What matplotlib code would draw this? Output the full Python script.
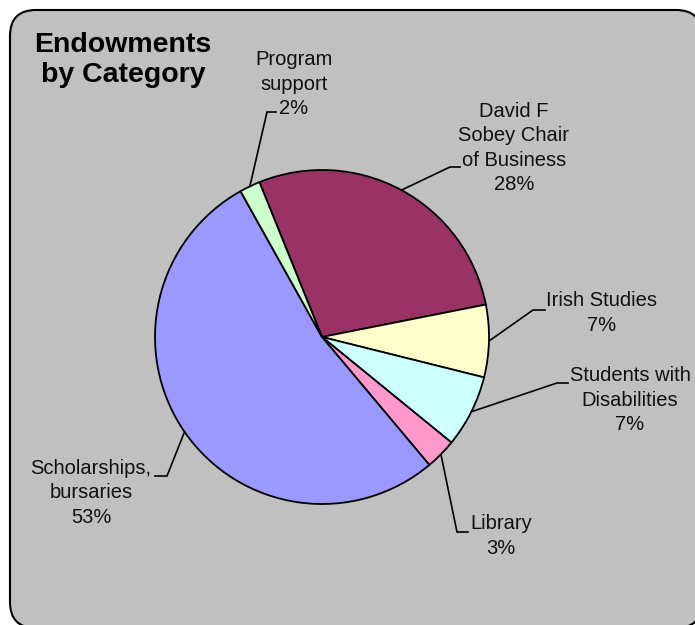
import numpy as np
import matplotlib.pyplot as plt
from matplotlib.patches import FancyBboxPatch

# Endowment share by category (percent), drawn clockwise from the top
categories = ['David F\nSobey Chair\nof Business', 'Irish Studies', 'Students with\nDisabilities',
              'Library', 'Scholarships,\nbursaries', 'Program\nsupport']
values = [28, 7, 7, 3, 53, 2]
colors = ['#993366', '#FFFFCC', '#CCFFFF', '#FF99CC', '#9999FF', '#CCFFCC']

W, H = 695, 625
plt.rcParams['font.family'] = ['Liberation Sans', 'DejaVu Sans']

fig = plt.figure(figsize=(W / 100, H / 100), dpi=100)
ax = fig.add_axes([0, 0, 1, 1])

cx, cy, r = 322, H - 337, 167
start = 112
ax.pie(values, colors=colors, startangle=start, counterclock=False,
       center=(cx, cy), radius=r,
       wedgeprops=dict(edgecolor='black', linewidth=1.3))

ax.set_xlim(0, W)
ax.set_ylim(0, H)
ax.set_aspect('equal')
ax.axis('off')

# grey rounded panel behind the chart (runs off the right and bottom edges)
panel = FancyBboxPatch((10, -3), 692, 618, boxstyle='round,pad=0,rounding_size=26',
                       facecolor='#C0C0C0', edgecolor='black', linewidth=1.5, zorder=0,
                       clip_on=False)
ax.add_patch(panel)

# label block centre, elbow and end of each leader line (pixel coords, top-down)
text_pos = [(514, 148), (602, 313), (630, 400), (501, 536), (91, 493), (294, 84)]
elbows = [((450, 167), (460, 167)), ((533, 310), (545, 310)), ((557, 383), (568, 383)),
          ((457, 532), (468, 532)), ((167, 476), (155, 476)), ((267, 112), (276, 112))]

total = sum(values)
angle = start
for name, v, (tx, ty), (p1, p2) in zip(categories, values, text_pos, elbows):
    mid = np.deg2rad(angle - 360 * v / total / 2)
    angle -= 360 * v / total
    x0, y0 = cx + r * np.cos(mid), cy + r * np.sin(mid)
    ax.plot([x0, p1[0], p2[0]], [y0, H - p1[1], H - p2[1]], color='black', lw=1.2,
            solid_joinstyle='miter', zorder=3)
    ax.text(tx, H - ty, f'{name}\n{v / total * 100:.0f}%', ha='center', va='center',
            fontsize=14.5, linespacing=1.35, color='#111111', zorder=4)

ax.text(123, H - 60, 'Endowments\nby Category', ha='center', va='center',
        fontsize=20.5, fontweight='bold', linespacing=1.22, color='black')

fig.savefig('out.png', dpi=100, facecolor='white')
